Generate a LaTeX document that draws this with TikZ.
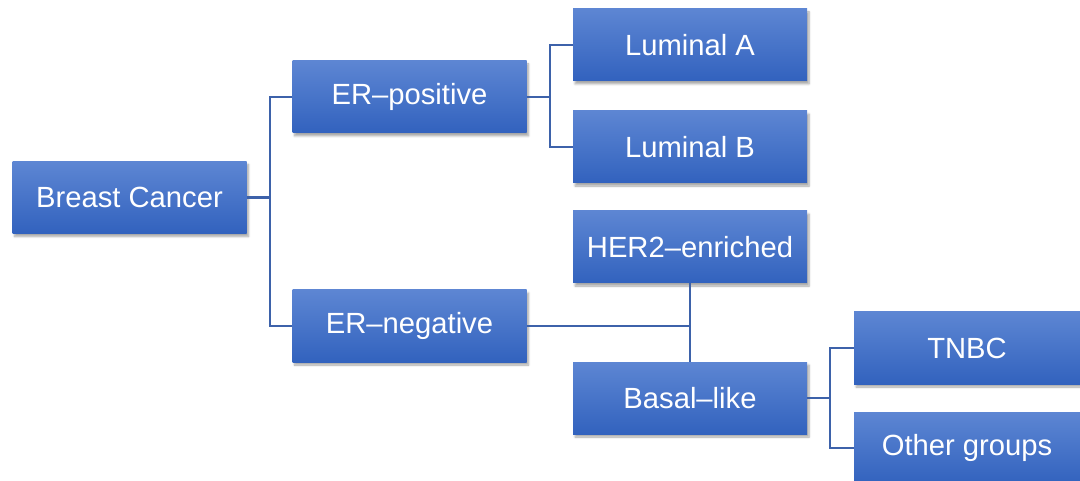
\documentclass[tikz,border=0pt]{standalone}
\usepackage{fontspec}
\setmainfont{Liberation Sans}
\usetikzlibrary{shadows.blur}
\definecolor{boxtop}{HTML}{5D86D3}
\definecolor{boxbot}{HTML}{3262BE}
\definecolor{linecol}{HTML}{3D62AA}
\tikzset{
  box/.style={rectangle, minimum width=234pt, minimum height=72pt, inner sep=0pt,
    top color=boxtop, bottom color=boxbot, text=white,
    font=\fontsize{29.2}{31}\selectfont,
    blur shadow={shadow xshift=2pt, shadow yshift=-3pt, shadow blur steps=6, shadow opacity=35}},
  conn/.style={draw=linecol, line width=2.2pt}
}
\begin{document}
\begin{tikzpicture}[x=1pt,y=-1pt]
\useasboundingbox (0,0) rectangle (1080,481);
\node[box] (bc) at (129.5,197.5) {Breast Cancer};
\node[box] (erp) at (409.5,97) {ER--positive};
\node[box] (ern) at (409.5,326) {ER--negative};
\node[box] (la) at (690,45) {Luminal A};
\node[box] (lb) at (690,147) {Luminal B};
\node[box] (her) at (690,247) {HER2--enriched};
\node[box] (bas) at (690,398) {Basal--like};
\node[box, minimum width=226pt] (tnbc) at (967,348) {TNBC};
\node[box, minimum width=226pt] (oth) at (967,448) {Other groups};
\coordinate (j1) at (270,197.5);
\coordinate (j2) at (550,97);
\coordinate (j3) at (690,326);
\coordinate (j4) at (830,398);
\draw[conn] (bc.east) -- (j1);
\draw[conn] (erp.west) -| (j1) |- (ern.west);
\draw[conn] (erp.east) -- (j2);
\draw[conn] (la.west) -| (j2) |- (lb.west);
\draw[conn] (ern.east) -- (j3);
\draw[conn] (her.south) -- (bas.north);
\draw[conn] (bas.east) -- (j4);
\draw[conn] (tnbc.west) -| (j4) |- (oth.west);
\end{tikzpicture}
\end{document}
